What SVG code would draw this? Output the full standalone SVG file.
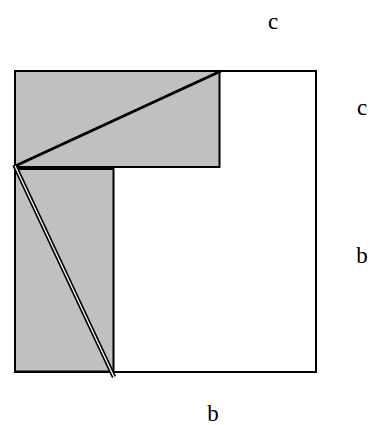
<svg xmlns="http://www.w3.org/2000/svg" width="371" height="425" viewBox="0 0 371 425">
<style>
.sh{fill:#c0c0c0;stroke:#000;stroke-width:2}
.sq{fill:#fff;stroke:#000;stroke-width:2}
.t{font-family:"Liberation Serif",serif;font-size:23px;fill:#000;text-anchor:middle}
</style>
<rect width="371" height="425" fill="#fff"/>
<g id="square"><rect class="sq" x="15" y="71" width="301" height="301"/></g>
<g id="upper"><rect class="sh" x="15" y="71" width="204.5" height="96"/></g>
<g id="lower"><rect class="sh" x="15" y="169" width="98.5" height="202.5"/></g>
<g id="connectors">
<line x1="13" y1="167" x2="221" y2="71" stroke="#000" stroke-width="3"/>
<line x1="15" y1="166" x2="114" y2="377" stroke="#000" stroke-width="4.5"/>
<line x1="15" y1="166" x2="114" y2="377" stroke="#fff" stroke-width="1.3"/>
</g>
<g id="labels">
<text class="t" x="273" y="29">c</text>
<text class="t" x="362" y="115">c</text>
<text class="t" x="362" y="263">b</text>
<text class="t" x="213" y="421">b</text>
</g>
</svg>
